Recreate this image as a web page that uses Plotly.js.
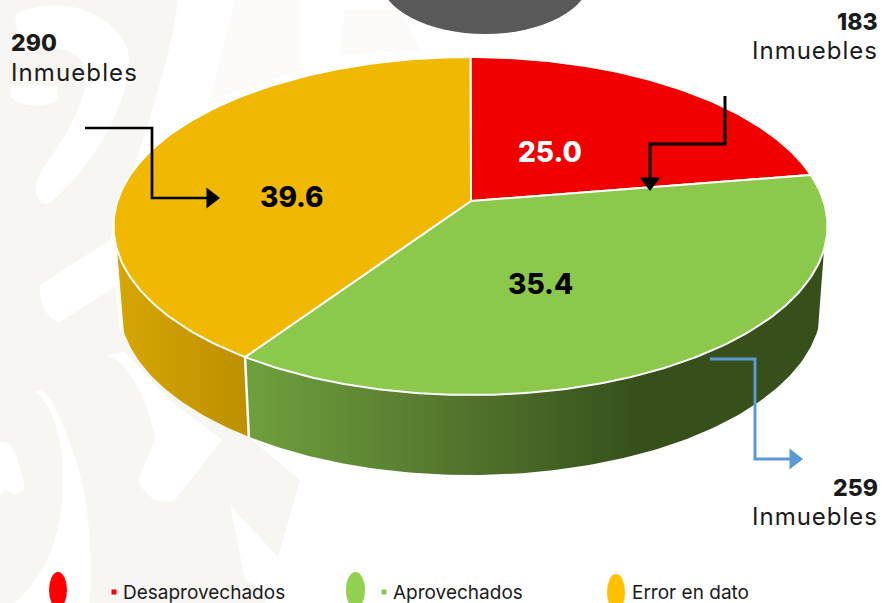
<!DOCTYPE html>
<html><head><meta charset="utf-8">
<script src="https://cdn.plot.ly/plotly-3.0.1.min.js"></script>
<style>html,body{margin:0;padding:0;background:#fff}#c{width:887px;height:603px}</style>
</head><body><div id="c"></div>
<script>
const categories = ['Desaprovechados','Aprovechados','Error en dato'];
const percentValues = [25.0, 35.4, 39.6];
const propertyCounts = [183, 259, 290];
const unitLabel = 'Inmuebles';
const sliceColors = ['#F00000','#8BC84B','#F0B800'];
const legendColors = ['#FF0000','#92D050','#FFC000'];
const FONT = 'Inter, "Open Sans", sans-serif';

const cx=470.5, topE={cy:226,rx:357,ry:169}, botE={cy:305,rx:351,ry:170}, apex=[471,201];
// oblique-view warp: share of the circle -> parameter on the drawn ellipse
const warp = th => th - 17.6*Math.sin(th*Math.PI/180) - 9.3*Math.sin(2*th*Math.PI/180);
const pt = (e,phi)=>[cx+e.rx*Math.sin(phi*Math.PI/180), e.cy-e.ry*Math.cos(phi*Math.PI/180)];
const arc=(e,a,b)=>{const r=[];const n=Math.max(2,Math.ceil(Math.abs(b-a)));for(let i=0;i<=n;i++)r.push(pt(e,a+(b-a)*i/n));return r;};

let cum=[0];percentValues.forEach(v=>cum.push(cum[cum.length-1]+v));
const bounds=cum.map(c=>warp(c*3.6));

const traces=[];
const poly=(pts,extra)=>traces.push(Object.assign({type:'scatter',mode:'lines',x:pts.map(p=>p[0]),y:pts.map(p=>p[1]),fill:'toself',hoverinfo:'skip',showlegend:false},extra));

// side walls
const wallVisibleEnd=98, wallVisibleStart=262;
const g1=bounds[2];
poly([...arc(topE,wallVisibleEnd,g1),...arc(botE,g1,wallVisibleEnd)],{
  line:{width:0,color:'rgba(0,0,0,0)'},fillcolor:'#36501B',
  fillgradient:{type:'horizontal',start:250,stop:826,colorscale:[[0,'#6E9F3D'],[0.3,'#587C30'],[0.68,'#364F1B'],[1,'#364F1B']]}});
poly([...arc(topE,g1,wallVisibleStart),...arc(botE,wallVisibleStart,g1)],{
  line:{width:0,color:'rgba(0,0,0,0)'},fillcolor:'#C89A00',
  fillgradient:{type:'horizontal',start:115,stop:248,colorscale:[[0,'#D6A702'],[1,'#BE8F00']]}});
// wall seam
const s0=pt(topE,g1),s1=pt(botE,g1);
traces.push({type:'scatter',mode:'lines',x:[s0[0],s1[0]],y:[s0[1],s1[1]],line:{color:'#fff',width:2.5},hoverinfo:'skip',showlegend:false});

// top faces
percentValues.forEach((v,i)=>{
  poly([apex,...arc(topE,bounds[i],bounds[i+1]),apex],{
    name:categories[i],fillcolor:sliceColors[i],line:{color:'#fff',width:2}});
});

// leader lines
const leader=(xs,ys,color,w)=>traces.push({type:'scatter',mode:'lines',x:xs,y:ys,line:{color,width:w},hoverinfo:'skip',showlegend:false});
leader([85,152,152,207],[128,128,198,198],'#000',2.7);
leader([725,725,650,650],[96,144,144,178],'#000',3);
leader([710,755,755,790],[359,359,459,459],'#5B9BD5',3);
traces.push({type:'scatter',mode:'markers',x:[211],y:[198],marker:{symbol:'triangle-right',size:18,color:'#000',line:{width:0}},hoverinfo:'skip',showlegend:false});
traces.push({type:'scatter',mode:'markers',x:[650],y:[182],marker:{symbol:'triangle-down',size:18,color:'#000',line:{width:0}},hoverinfo:'skip',showlegend:false});
traces.push({type:'scatter',mode:'markers',x:[794],y:[459],marker:{symbol:'triangle-right',size:18,color:'#5B9BD5',line:{width:0}},hoverinfo:'skip',showlegend:false});

// legend key squares
traces.push({type:'scatter',mode:'markers',x:[114],y:[592],marker:{symbol:'square',size:5,color:'#F00000',line:{width:0}},hoverinfo:'skip',showlegend:false});
traces.push({type:'scatter',mode:'markers',x:[384],y:[592],marker:{symbol:'square',size:5,color:'#8BC84B',line:{width:0}},hoverinfo:'skip',showlegend:false});

const spaced=(s,px)=>'<span style="letter-spacing:'+px+'px">'+s+'</span>';
const txt=(x,y,text,o={})=>({x,y,xref:'x',yref:'y',text,showarrow:false,xanchor:o.a||'left',yanchor:'middle',
  font:{family:FONT,size:o.s||24,color:o.c||'#1a1a1a',weight:o.w||400}});
const annotations=[
  txt(9,43,String(propertyCounts[2]),{s:23,w:800}),
  txt(9,72,spaced(unitLabel,1.1),{}),
  txt(880,22,String(propertyCounts[0]),{a:'right',s:23,w:800}),
  txt(880,50,spaced(unitLabel,1.0),{a:'right'}),
  txt(880,488,String(propertyCounts[1]),{a:'right',s:23,w:800}),
  txt(880,516,spaced(unitLabel,1.0),{a:'right'}),
  txt(549.5,152,percentValues[0].toFixed(1),{a:'center',s:28,c:'#fff',w:800}),
  txt(540.5,284,percentValues[1].toFixed(1),{a:'center',s:28,c:'#000',w:800}),
  txt(291.5,197,percentValues[2].toFixed(1),{a:'center',s:28,c:'#000',w:800}),
  txt(121,592,categories[0],{s:19}),
  txt(391,592,categories[1],{s:19}),
  txt(630,592,categories[2],{s:19}),
];
const ell=(x0,x1,y0,y1,c)=>({type:'circle',xref:'x',yref:'y',x0,x1,y0,y1,fillcolor:c,line:{width:0},layer:'above'});
const wm=(path,c)=>({type:'path',xref:'x',yref:'y',path,fillcolor:c||'#F8F6F3',line:{width:0},layer:'below'});
const W='#FFFFFF';
const shapes=[
  wm('M0,0 L178,0 C170,60 150,120 110,240 L120,330 L300,480 L265,603 L0,603 Z'),
  wm('M235,0 L300,0 L300,70 L210,100 Z','#FCFBF9'),
  wm('M15,15 C50,-5 110,5 128,50 C135,100 90,170 50,203 C35,208 30,185 45,165 C75,125 90,90 85,65 C75,45 35,45 18,40 Z',W),
  wm('M12,85 L58,85 L58,100 C40,110 15,105 10,95 Z',W),
  wm('M40,285 L110,240 L118,285 L60,322 C50,322 38,305 40,285 Z',W),
  wm('M108,355 C125,360 150,400 155,440 L138,480 C145,500 165,505 175,500 L222,440 L170,400 L125,352 Z',W),
  wm('M35,392 C50,400 65,440 62,480 C65,540 40,580 15,603 L90,603 C92,540 90,490 65,430 C55,405 45,385 35,392 Z',W),
  wm('M0,442 C10,440 18,450 25,490 L15,495 L5,490 L0,495 Z',W),
  wm('M230,505 L290,570 L280,603 L245,580 Z',W),
  wm('M345,10 L400,10 L420,50 L340,55 Z','#FCFBF9'),
  ell(380,590,-78,34,'#595959'),
  ell(49,67,572,608,legendColors[0]),
  ell(346,365,572,608,legendColors[1]),
  ell(607,625,574,610,legendColors[2]),
];
Plotly.newPlot('c',traces,{
  width:887,height:603,margin:{l:0,r:0,t:0,b:0},paper_bgcolor:'#fff',plot_bgcolor:'rgba(0,0,0,0)',
  showlegend:false,hovermode:false,
  xaxis:{range:[0,887],visible:false,fixedrange:true},
  yaxis:{range:[603,0],visible:false,fixedrange:true},
  annotations,shapes
},{displayModeBar:false,staticPlot:true});
</script></body></html>
